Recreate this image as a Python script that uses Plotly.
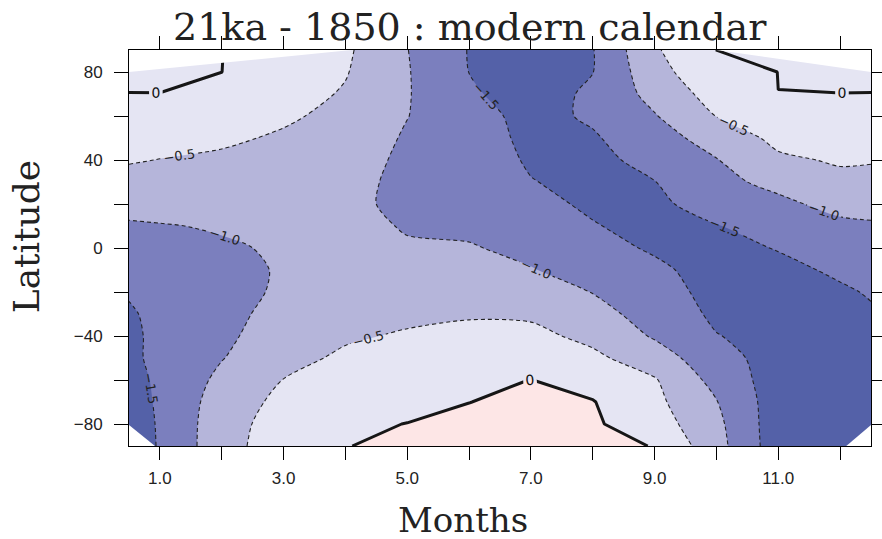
import numpy as np
import plotly.graph_objects as go

# ---------------- data ----------------
months = [0.5, 1, 2, 3, 4, 5, 6, 7, 8, 9, 10, 11, 12, 12.5]
latitudes = [90, 80, 70, 60, 50, 40, 30, 20, 10, 0, -10, -20, -30, -40, -50, -60, -70, -80, -90]

# values per month column, listed from 90N to 90S
edge = [0.15, 0.07, -0.005, -0.16, -0.31, -0.46, -0.67, -0.86, -1.05, -1.22, -1.36, -1.47, -1.54, -1.56, -1.56, -1.60, -1.63, -1.66, -1.64]
m01 = [0.12, 0.05, -0.003, -0.17, -0.33, -0.51, -0.70, -0.86, -1.02, -1.17, -1.28, -1.36, -1.41, -1.43, -1.43, -1.45, -1.46, -1.47, -1.48]
m02 = [0.002, 0.001, -0.10, -0.25, -0.42, -0.58, -0.74, -0.88, -0.97, -1.04, -1.10, -1.12, -1.10, -1.08, -1.02, -0.88, -0.76, -0.70, -0.68]
m03 = [-0.08, -0.18, -0.30, -0.43, -0.56, -0.68, -0.78, -0.86, -0.92, -0.96, -0.97, -0.95, -0.89, -0.80, -0.65, -0.49, -0.38, -0.29, -0.24]
m04 = [-0.42, -0.47, -0.545, -0.63, -0.72, -0.78, -0.84, -0.88, -0.88, -0.86, -0.82, -0.76, -0.66, -0.56, -0.42, -0.24, -0.13, -0.05, -0.01]
m05 = [-0.99, -0.97, -0.97, -0.99, -1.05, -1.10, -1.13, -1.12, -1.03, -0.96, -0.86, -0.74, -0.60, -0.45, -0.32, -0.20, -0.09, 0.005, 0.08]
m06 = [-1.52, -1.505, -1.42, -1.30, -1.25, -1.21, -1.18, -1.14, -1.08, -0.97, -0.86, -0.72, -0.54, -0.39, -0.25, -0.12, -0.005, 0.10, 0.18]
m07 = [-1.75, -1.78, -1.76, -1.66, -1.62, -1.56, -1.48, -1.36, -1.22, -1.10, -0.98, -0.82, -0.57, -0.38, -0.20, 0.005, 0.10, 0.18, 0.22]
m08 = [-1.52, -1.51, -1.40, -1.43, -1.55, -1.62, -1.64, -1.58, -1.47, -1.33, -1.16, -1.01, -0.88, -0.62, -0.40, -0.16, 0.02, 0.06, 0.08]
m09 = [-0.56, -0.68, -0.85, -1.03, -1.20, -1.36, -1.51, -1.62, -1.66, -1.56, -1.40, -1.26, -1.14, -1.05, -0.76, -0.46, -0.38, -0.26, -0.01]
m10 = [0.001, -0.12, -0.30, -0.49, -0.80, -1.02, -1.12, -1.25, -1.52, -1.62, -1.70, -1.68, -1.60, -1.48, -1.32, -1.16, -0.98, -0.88, -0.82]
m11 = [0.06, 0.002, -0.0005, -0.20, -0.38, -0.58, -0.88, -1.10, -1.30, -1.48, -1.60, -1.66, -1.68, -1.69, -1.70, -1.74, -1.76, -1.78, -1.78]
m12 = [0.12, 0.06, -0.003, -0.15, -0.30, -0.45, -0.62, -0.86, -1.10, -1.30, -1.44, -1.55, -1.64, -1.72, -1.78, -1.84, -1.90, -1.96, -2.02]

# corners of the domain with no data (blank in the original)
nodata_tl_month = [0.5, 4.1, 0.5]
nodata_tl_lat = [80, 90, 90]
nodata_tr_month = [10.0, 12.5, 12.5]
nodata_tr_lat = [90, 80, 90]
nodata_bl_month = [0.5, 0.92, 0.5]
nodata_bl_lat = [-80.5, -90, -90]
nodata_br_month = [12.1, 12.5, 12.5]
nodata_br_lat = [-90, -80.5, -90]

x_tickvals = [1, 2, 3, 4, 5, 6, 7, 8, 9, 10, 11, 12]
x_ticktext = ["1.0", "", "3.0", "", "5.0", "", "7.0", "", "9.0", "", "11.0", ""]
y_tickvals = [-80, -60, -40, -20, 0, 20, 40, 60, 80]
y_ticktext = ["\u221280", "", "\u221240", "", "0", "", "40", "", "80"]

title_text = "21ka - 1850 : modern calendar"
xlabel = "Months"
ylabel = "Latitude"

# ---------------- build ----------------
cols = [edge, m01, m02, m03, m04, m05, m06, m07, m08, m09, m10, m11, m12, edge]
Z = np.array(cols).T[::-1, :]      # rows = latitude ascending
lat = np.array(latitudes)[::-1]


def step_scale(colors):
    n = len(colors)
    out = []
    for i, c in enumerate(colors):
        lo = 0 if i == 0 else (i - 0.5) / (n - 1)
        hi = 1 if i == n - 1 else (i + 0.5) / (n - 1)
        out.append([lo, c])
        out.append([hi, c])
    return out


neg_colors = ["#5461a8", "#7b7fbe", "#b5b5da", "#e5e5f3"]
pos_colors = ["rgba(255,255,255,0)", "#fde6e6"]

fig = go.Figure()

# negative bands
fig.add_trace(go.Contour(
    x=months, y=lat, z=Z,
    autocontour=False,
    contours=dict(start=-1.5, end=-0.5, size=0.5, coloring="fill", showlines=False),
    colorscale=step_scale(neg_colors), showscale=False,
    line=dict(width=0, smoothing=0.8),
    hoverinfo="skip",
))

# positive band (southern polar region)
south = lat <= -40
fig.add_trace(go.Contour(
    x=months, y=lat[south], z=Z[south, :],
    autocontour=False,
    contours=dict(start=0, end=0, size=1, coloring="fill", showlines=False),
    colorscale=step_scale(pos_colors), showscale=False,
    line=dict(width=0, smoothing=0),
    hoverinfo="skip",
))

for mx, my in [(nodata_tl_month, nodata_tl_lat), (nodata_tr_month, nodata_tr_lat),
               (nodata_bl_month, nodata_bl_lat), (nodata_br_month, nodata_br_lat)]:
    fig.add_trace(go.Scatter(x=mx, y=my, mode="none", fill="toself",
                             fillcolor="white", hoverinfo="skip"))

fig.add_trace(go.Contour(
    x=months, y=lat, z=Z,
    autocontour=False,
    contours=dict(start=-1.5, end=-0.5, size=0.5, coloring="none",
                  showlabels=True, labelformat=".1f",
                  labelfont=dict(family="DejaVu Sans", size=13, color="#222")),
    line=dict(color="#222", width=1.1, dash="4px,3px", smoothing=0.8),
    showscale=False, hoverinfo="skip",
))

fig.add_trace(go.Contour(
    x=months, y=lat, z=Z,
    autocontour=False,
    contours=dict(start=0, end=0, size=1, coloring="none",
                  showlabels=True, labelformat=".0f",
                  labelfont=dict(family="DejaVu Sans", size=14, color="#111")),
    line=dict(color="#161616", width=3, smoothing=0),
    showscale=False, hoverinfo="skip",
))

axis_font = dict(family="Liberation Sans", size=17, color="#222")

fig.update_layout(
    width=882, height=539, autosize=False,
    margin=dict(l=129, r=11, t=50, b=93),
    paper_bgcolor="white", plot_bgcolor="white",
    showlegend=False,
    xaxis=dict(range=[0.5, 12.5], tickvals=x_tickvals, ticktext=x_ticktext,
               ticks="outside", ticklen=13, tickwidth=1, tickcolor="black",
               showline=True, linecolor="black", linewidth=1, mirror="ticks",
               showgrid=False, zeroline=False, tickfont=axis_font,
               ticklabelstandoff=4, automargin=False),
    yaxis=dict(range=[-90, 90], tickvals=y_tickvals, ticktext=y_ticktext,
               ticks="outside", ticklen=14, tickwidth=1, tickcolor="black",
               showline=True, linecolor="black", linewidth=1, mirror="ticks",
               showgrid=False, zeroline=False, tickfont=axis_font,
               ticklabelstandoff=8, automargin=False),
    annotations=[
        dict(text=title_text, xref="paper", yref="paper", x=0.46, y=1.0,
             yshift=23, xanchor="center", yanchor="middle", showarrow=False,
             font=dict(family="DejaVu Serif", size=38, color="#222")),
        dict(text=xlabel, xref="paper", yref="paper", x=0.45, y=-0.187,
             xanchor="center", yanchor="middle", showarrow=False,
             font=dict(family="DejaVu Serif", size=34, color="#222")),
        dict(text=ylabel, xref="paper", yref="paper", x=-0.137, y=0.528,
             xanchor="center", yanchor="middle", showarrow=False, textangle=-90,
             font=dict(family="DejaVu Serif", size=36, color="#222")),
    ],
)

post = ("document.body.style.margin='0px';"
        "document.body.style.overflow='hidden';")

fig.write_html("out.html", config={"responsive": False, "displayModeBar": False},
               post_script=post)
